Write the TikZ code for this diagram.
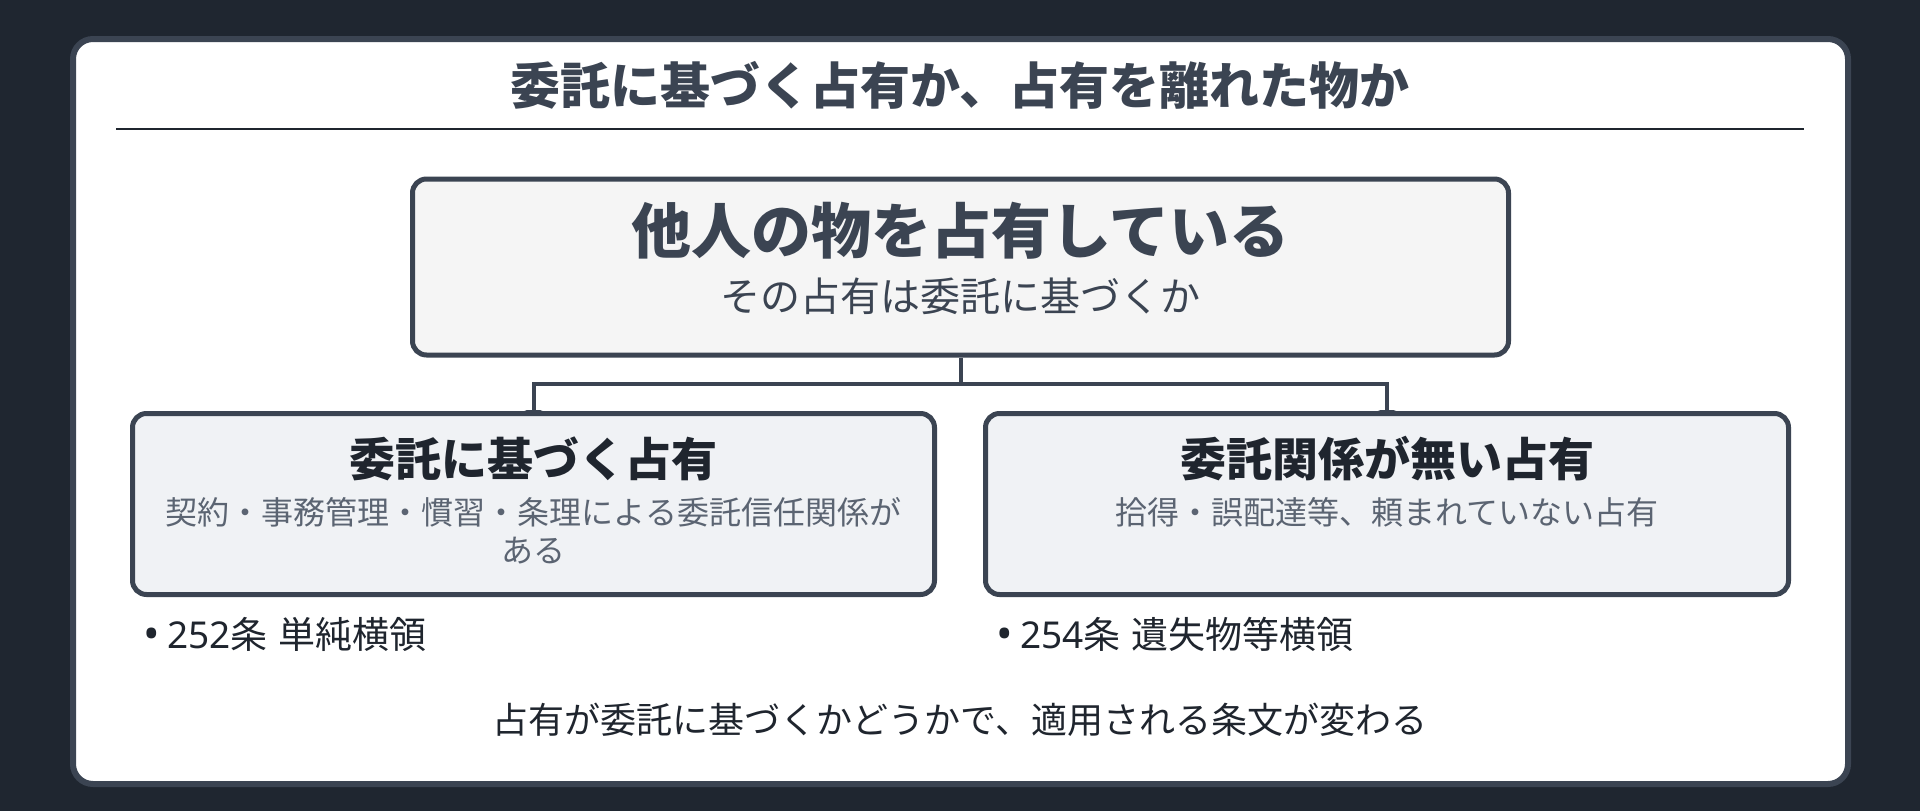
\documentclass[tikz,border=0pt]{standalone}
\usepackage{fontspec}
\setmainfont{Noto Sans CJK JP}
\newfontfamily\latinfont{Noto Sans}
\usetikzlibrary{positioning,arrows.meta}
\definecolor{bgdark}{HTML}{1F2630}
\definecolor{slate}{HTML}{3B4452}
\definecolor{ink}{HTML}{1F252E}
\definecolor{subgray}{HTML}{5B6472}
\definecolor{topfill}{HTML}{F5F5F5}
\definecolor{casefill}{HTML}{F0F2F5}
\tikzset{
    casebox/.style={draw=slate,line width=5pt,rounded corners=14pt,inner sep=0pt},
    branch/.style={draw=slate,line width=4pt,-{Latex[length=4pt,width=20pt]},shorten >=-3pt},
    txt/.style={inner sep=0pt,align=center}
}
\newcommand{\artbullet}{{\latinfont\raisebox{-1pt}{\fontsize{44}{44}\selectfont •}\hspace{0.2em}}}
\begin{document}
\begin{tikzpicture}[x=1pt,y=-1pt]
                \useasboundingbox[fill=bgdark] (0,0) rectangle (1920,811);
                \draw[slate,line width=6pt,fill=white,rounded corners=20pt] (73,39) rectangle (1848,784);
                \node[txt,text=slate,font=\bfseries\fontsize{50}{58}\selectfont] (title) at (960,85) {委託に基づく占有か、占有を離れた物か};
                \draw[ink,line width=2.5pt] (116,129) -- (1804,129);
                % boxes
                \node[casebox,fill=topfill,minimum width=1096pt,minimum height=176pt] (own) at (960.5,267) {};
                \node[casebox,fill=casefill,minimum width=802pt,minimum height=181pt] (trust) at (533.5,504) {};
                \node[casebox,fill=casefill,minimum width=803pt,minimum height=181pt] (lost) at (1387,504) {};
                \node[txt,text=slate,font=\bfseries\fontsize{60}{70}\selectfont] (ownhead) at (960.5,231) {他人の物を占有している};
                \node[txt,text=slate,font=\fontsize{40}{48}\selectfont] (ownsub) at (960.5,296) {その占有は委託に基づくか};
                \node[txt,text=ink,font=\bfseries\fontsize{46}{54}\selectfont] (trusthead) at (533.5,459) {委託に基づく占有};
                \node[txt,text=subgray,font=\fontsize{32}{38}\selectfont] (trustsub) at (533.5,531) {契約・事務管理・慣習・条理による委託信任関係が\\ある};
                \node[txt,text=ink,font=\bfseries\fontsize{46}{54}\selectfont] (losthead) at (1387,459) {委託関係が無い占有};
                \node[txt,text=subgray,font=\fontsize{32}{38}\selectfont] (lostsub) at (1387,512) {拾得・誤配達等、頼まれていない占有};
                % connectors
                \coordinate (fork) at (960.5,384);
                \draw[slate,line width=4pt] (own.south) -- (fork);
                \draw[branch] (fork) -| (trust.north);
                \draw[branch] (fork) -| (lost.north);
                % articles
                \node[txt,anchor=west,text=ink,font=\fontsize{37}{44}\selectfont] (art252) at (143,634) {\artbullet{\latinfont 252}条\hspace{0.3em}単純横領};
                \node[txt,anchor=west,text=ink,font=\fontsize{37}{44}\selectfont] (art254) at (996,634) {\artbullet{\latinfont 254}条\hspace{0.3em}遺失物等横領};
                \node[txt,text=ink,font=\fontsize{36}{44}\selectfont] (note) at (960,720) {占有が委託に基づくかどうかで、適用される条文が変わる};
            \end{tikzpicture}
\end{document}
